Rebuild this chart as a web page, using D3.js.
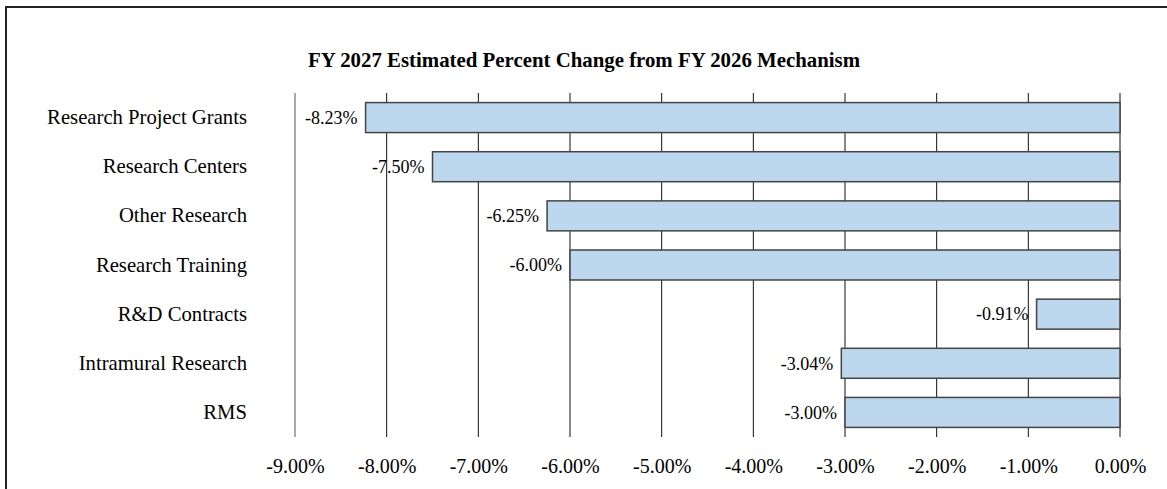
<!DOCTYPE html>
<html>
<head>
<meta charset="utf-8">
<script src="https://cdn.jsdelivr.net/npm/d3@7"></script>
<style>
  body { margin: 0; background: #fff; }
  text { font-family: "Liberation Serif", "Times New Roman", serif; fill: #000; }
</style>
</head>
<body>
<div class="BarChart"></div>
<script>
// data
const categories = ['Research Project Grants', 'Research Centers', 'Other Research',
    'Research Training', 'R&D Contracts', 'Intramural Research', 'RMS'];
const values = [-8.23, -7.50, -6.25, -6.00, -0.91, -3.04, -3.00];
const valueLabels = ['-8.23%', '-7.50%', '-6.25%', '-6.00%', '-0.91%', '-3.04%', '-3.00%'];
const tickValues = [-9, -8, -7, -6, -5, -4, -3, -2, -1, 0];
const tickLabels = ['-9.00%', '-8.00%', '-7.00%', '-6.00%', '-5.00%', '-4.00%', '-3.00%', '-2.00%', '-1.00%', '0.00%'];
const title = 'FY 2027 Estimated Percent Change from FY 2026 Mechanism';

const W = 1167, H = 489;
const margin = {top: 93, right: 47, bottom: 52, left: 295};

let svg = d3.select('.BarChart')
    .append('svg')
    .attr('width', W)
    .attr('height', H);

// outer frame (only left and top edges show in the picture)
svg.append('path')
    .attr('d', 'M6,' + H + 'V7H' + W)
    .attr('fill', 'none')
    .attr('stroke', '#222')
    .attr('stroke-width', 2);

let x = d3.scaleLinear().domain([-9, 0]).range([margin.left, W - margin.right]);
let y = d3.scaleBand().domain(categories)
    .range([margin.top, H - margin.bottom])
    .paddingInner(0.39).paddingOuter(0.195);

svg.append('text')
    .attr('x', 584)
    .attr('y', 67)
    .attr('text-anchor', 'middle')
    .attr('font-weight', 'bold')
    .attr('font-size', 21)
    .attr('textLength', 552)
    .attr('lengthAdjust', 'spacingAndGlyphs')
    .text(title);

// vertical gridlines
svg.append('g')
    .selectAll('line')
    .data(tickValues)
    .join('line')
    .attr('x1', d => x(d)).attr('x2', d => x(d))
    .attr('y1', margin.top).attr('y2', H - margin.bottom)
    .attr('stroke', d => d === -9 ? '#555' : '#111')
    .attr('stroke-width', 1);

// x tick labels
let xAxis = svg.append('g')
    .attr('transform', 'translate(0,' + (H - margin.bottom) + ')')
    .call(d3.axisBottom(x).tickValues(tickValues).tickSize(0).tickPadding(0)
        .tickFormat((d, i) => tickLabels[i]));
xAxis.select('.domain').remove();
xAxis.attr('font-family', null).attr('font-size', null);
xAxis.selectAll('text')
    .attr('dy', null)
    .attr('y', 36)
    .attr('font-size', 20)
    .attr('fill', '#000');

// category labels
let yAxis = svg.append('g')
    .attr('transform', 'translate(' + (margin.left - 48) + ',0)')
    .call(d3.axisLeft(y).tickSize(0).tickPadding(0));
yAxis.select('.domain').remove();
yAxis.attr('font-family', null).attr('font-size', null);
yAxis.selectAll('text')
    .attr('font-size', 20.7)
    .attr('fill', '#000');

let data = categories.map((c, i) => ({cat: c, val: values[i], label: valueLabels[i]}));

// bars
svg.append('g')
    .selectAll('rect')
    .data(data)
    .join('rect')
    .attr('x', d => x(d.val))
    .attr('y', d => y(d.cat))
    .attr('width', d => x(0) - x(d.val))
    .attr('height', y.bandwidth())
    .attr('fill', '#BDD7EE')
    .attr('stroke', '#444')
    .attr('stroke-width', 1.5);

// value labels
svg.append('g')
    .selectAll('text')
    .data(data)
    .join('text')
    .attr('x', d => x(d.val) - 8)
    .attr('y', d => y(d.cat) + y.bandwidth() / 2)
    .attr('dy', '0.35em')
    .attr('text-anchor', 'end')
    .attr('font-size', 18)
    .text(d => d.label);
</script>
</body>
</html>
